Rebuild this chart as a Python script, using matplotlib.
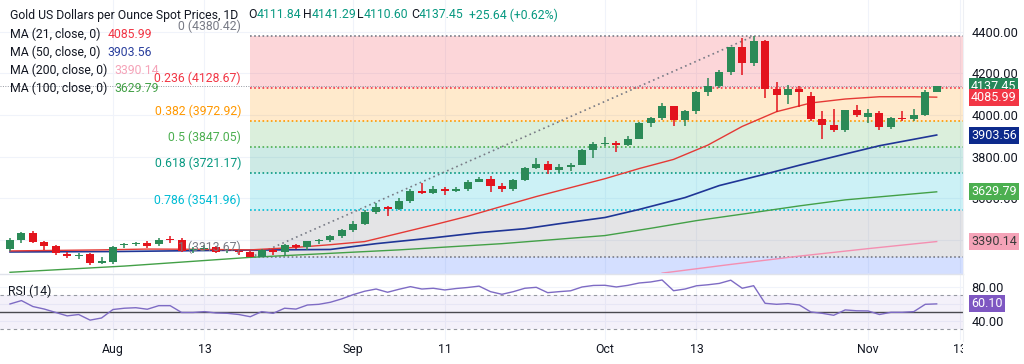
import numpy as np
import matplotlib
matplotlib.use('Agg')
import matplotlib.pyplot as plt
from matplotlib.transforms import blended_transform_factory, Bbox, TransformedBbox
from matplotlib.lines import Line2D

plt.rcParams['font.family'] = ['Roboto', 'DejaVu Sans']

# daily bars, Jul 21 .. Nov 11
opens = [3353, 3397, 3431, 3387, 3368, 3329, 3320, 3332, 3286, 3293,
         3372, 3378, 3384, 3378, 3401, 3399, 3350, 3355, 3364, 3343,
         3345, 3340, 3318, 3348, 3339, 3372, 3366, 3393, 3397, 3417,
         3448, 3477, 3533, 3559, 3545, 3587, 3636, 3626, 3641, 3634,
         3643, 3679, 3690, 3659, 3644, 3685, 3746, 3763, 3736, 3749,
         3760, 3833, 3858, 3866, 3857, 3886, 3960, 3985, 4041, 3976,
         4018, 4110, 4142, 4208, 4326, 4251, 4356, 4125, 4095, 4126,
         4090, 3982, 3952, 3930, 4024, 3990, 4011, 3941, 3987, 3980,
         4001, 4111.84]
highs = [3405, 3434, 3439, 3394, 3373, 3338, 3334, 3336, 3314, 3368,
         3385, 3390, 3393, 3405, 3417, 3405, 3362, 3375, 3370, 3356,
         3352, 3345, 3352, 3352, 3378, 3376, 3394, 3402, 3424, 3453,
         3490, 3540, 3578, 3563, 3600, 3645, 3674, 3657, 3654, 3655,
         3685, 3703, 3707, 3673, 3690, 3749, 3791, 3780, 3762, 3769,
         3835, 3871, 3895, 3876, 3897, 3965, 3991, 4059, 4045, 4022,
         4116, 4179, 4218, 4330, 4370, 4380.42, 4360, 4161, 4146, 4138,
         4112, 4018, 4030, 4025, 4046, 4030, 4018, 3990, 4020, 4030,
         4121, 4141.29]
lows = [3345, 3383, 3381, 3351, 3325, 3312, 3308, 3279, 3280, 3281,
        3360, 3367, 3358, 3371, 3385, 3342, 3335, 3347, 3334, 3335,
        3325, 3313.67, 3315, 3325, 3322, 3352, 3351, 3378, 3386, 3407,
        3437, 3468, 3525, 3511, 3540, 3578, 3620, 3620, 3615, 3629,
        3634, 3676, 3627, 3628, 3633, 3683, 3738, 3717, 3722, 3729,
        3758, 3793, 3852, 3820, 3849, 3884, 3942, 3978, 3945, 3946,
        4007, 4093, 4131, 4195, 4193, 4236, 4082, 4016, 4055, 4040,
        3971, 3886, 3916, 3920, 3990, 3963, 3930, 3931, 3971, 3970,
        3995, 4110.60]
closes = [3397, 3431, 3387, 3368, 3337, 3320, 3327, 3286, 3295, 3364,
          3380, 3383, 3369, 3398, 3397, 3346, 3355, 3356, 3341, 3345,
          3340, 3318, 3348, 3339, 3372, 3366, 3393, 3397, 3417, 3448,
          3477, 3533, 3559, 3545, 3587, 3636, 3626, 3641, 3634, 3643,
          3679, 3690, 3659, 3644, 3685, 3746, 3763, 3736, 3749, 3760,
          3833, 3858, 3866, 3857, 3886, 3960, 3985, 4041, 3976, 4018,
          4110, 4142, 4208, 4326, 4251, 4356, 4125, 4095, 4126, 4112,
          3982, 3952, 3930, 4024, 4002, 4011, 3941, 3987, 3981, 4001,
          4111.81, 4137.45]

rsi = [60, 64, 57, 54, 50, 46, 47.6, 41, 43.5, 53.5,
       55, 55.6, 53.8, 58, 58, 50, 50, 51, 49.4, 49,
       47.6, 45, 51, 49, 55, 54, 58.8, 59.6, 62, 66,
       71, 75, 77.6, 73.8, 77.3, 80.4, 77.6, 78.5, 76.5, 78.2,
       79.4, 81, 74.5, 71.4, 74.5, 78.5, 79.6, 73.3, 74.5, 75.5,
       80, 81.8, 82, 80, 81.9, 84.7, 85.9, 88.2, 75.6, 77.6,
       81.4, 82.6, 84.2, 88, 78.5, 81.5, 60.8, 59.6, 60.4, 58.8,
       50.6, 49, 46.7, 53, 52, 51.8, 47.6, 50.2, 50.2, 51,
       59.6, 60.1]

# moving averages at a few bars
ma21_idx = [0, 8, 12, 16, 21, 25, 28, 31, 34, 37, 40, 43, 46, 49, 52, 55,
            58, 61, 64, 67, 70, 73, 76, 79, 81]
ma21 = [3345, 3350, 3354, 3353, 3350, 3362, 3375, 3390, 3430, 3470, 3512,
        3560, 3607, 3650, 3693, 3742, 3786, 3855, 3945, 4016, 4058, 4077,
        4088, 4088, 4085.99]
ma50_idx = [0, 9, 19, 28, 32, 37, 41, 45, 48, 52, 55, 59, 62, 66, 69, 73, 76, 81]
ma50 = [3340, 3342, 3348, 3352, 3380, 3408, 3433, 3452, 3476, 3506, 3545,
        3602, 3660, 3715, 3758, 3812, 3852, 3903.56]
ma100_idx = [0, 10, 21, 34, 43, 52, 56, 60, 65, 69, 73, 81]
ma100 = [3242, 3272, 3314, 3350, 3380, 3419, 3454, 3491, 3530, 3562, 3591, 3629.79]
ma200_idx = [57, 63, 69, 75, 81]
ma200 = [3238, 3280, 3320, 3356, 3390.14]

fib_levels = ['0', '0.236', '0.382', '0.5', '0.618', '0.786', '1']
fib_prices = [4380.42, 4128.67, 3972.92, 3847.05, 3721.17, 3541.96, 3313.67]
fib_colors = ['#787b86', '#f23645', '#ff9800', '#4caf50', '#089981', '#00bcd4', '#787b86']
fib_ext = 2654.23  # 1.618
fib_start, fib_end = 21, 65

tick_pos = [9, 17, 30, 38, 52, 60, 75, 83]
tick_lbl = ['Aug', '13', 'Sep', '11', 'Oct', '13', 'Nov', '13']

UP, DOWN = '#2b8a57', '#e3131d'
TXT = '#131722'
W, H = 1024, 364
FS = 8.8


def P(x, y):
    return x / W, 1 - y / H


fig = plt.figure(figsize=(10.24, 3.64), dpi=100)
ax = fig.add_axes([0, 1 - 273 / H, 963 / W, 273 / H])
ax2 = fig.add_axes([0, 1 - 340 / H, 963 / W, 65 / H])

xmin, xmax = -0.874, 83.3
for a in (ax, ax2):
    a.set_xlim(xmin, xmax)
    for s in a.spines.values():
        s.set_visible(False)
    a.set_xticks(tick_pos)
    a.tick_params(axis='x', length=0, labelbottom=False)
    a.grid(True, color='#f0f3fa', lw=0.8, zorder=0)
    a.set_axisbelow(True)
    a.yaxis.tick_right()
    a.tick_params(axis='y', length=0, pad=6, labelsize=9.2, labelcolor=TXT)

ax.set_ylim(3238.6, 4554.2)
ax.set_yticks([3400, 3600, 3800, 4000, 4200, 4400])
# 3400 sits fully under the MA200 tag on the reference
ax.set_yticklabels(['' if v == 3400 else f'{v:.2f}' for v in ax.get_yticks()])

# fib bands and levels
xr = [fib_start, xmax + 1]
for k in range(len(fib_prices) - 1):
    ax.fill_between(xr, fib_prices[k], fib_prices[k + 1], color=fib_colors[k + 1],
                    alpha=0.2, lw=0, zorder=1)
ax.fill_between(xr, fib_prices[-1], fib_ext, color='#2962ff', alpha=0.2, lw=0, zorder=1)
for lvl, p, c in zip(fib_levels, fib_prices, fib_colors):
    ax.hlines(p, fib_start, xmax + 1, colors=c, lw=1.2, linestyles=(0, (1, 1.5)), zorder=2)
    ax.annotate(f'{lvl} ({p:.2f})', xy=(fib_start - 0.8, p), xytext=(0, 3),
                textcoords='offset pixels', ha='right', va='bottom', fontsize=FS,
                color=c, annotation_clip=False, zorder=6)
ax.plot([fib_start, fib_end], [fib_prices[-1], fib_prices[0]], color='#787b86',
        lw=1.2, ls=(0, (1, 2)), zorder=2)

# last price line
ax.axhline(closes[-1], color='#9598a1', lw=0.7, ls=(0, (1, 1.5)), zorder=2)

# moving averages
ax.plot(ma100_idx, ma100, color='#43a047', lw=1, zorder=3)
ax.plot(ma200_idx, ma200, color='#f48fb1', lw=1, zorder=3)
ax.plot(ma50_idx, ma50, color='#1f3596', lw=1.2, zorder=3)
ax.plot(ma21_idx, ma21, color='#e53935', lw=1, zorder=3)

# candles
x = np.arange(len(closes))
o = np.array(opens, dtype=float)
c = np.array(closes, dtype=float)
col = np.where(c >= o, UP, DOWN)
ax.vlines(x, lows, highs, colors=col, lw=1.1, zorder=4)
ax.bar(x, np.maximum(np.abs(c - o), 3), bottom=np.minimum(o, c), width=0.7,
       color=col, lw=0, zorder=5)


# price scale labels
def tag(a, val, txt, fc, tc='white'):
    a.annotate(txt, xy=(1, val), xycoords=('axes fraction', 'data'), xytext=(8, 0),
               textcoords='offset pixels', ha='left', va='center', fontsize=9,
               color=tc, annotation_clip=False, zorder=10,
               bbox=dict(boxstyle='square,pad=0.16', fc=fc, ec='none'))


tag(ax, closes[-1], '4137.45', '#26875a')
tag(ax, ma21[-1], '4085.99', '#f23645')
tag(ax, ma50[-1], '3903.56', '#0d2a8c')
tag(ax, ma100[-1], '3629.79', '#4caf50')
tag(ax, ma200[-1], '3390.14', '#f5a3b8', tc='#3a3a3a')

# RSI pane
ax2.set_ylim(17.6, 94.1)
ax2.set_yticks([40, 60, 80])
ax2.set_yticklabels(['40.00', '', '80.00'])
ax2.axhspan(30, 70, color='#7e57c2', alpha=0.08, lw=0, zorder=1)
ax2.axhline(70, color='#9598a1', lw=0.8, ls=(0, (3, 3)), zorder=2)
ax2.axhline(30, color='#9598a1', lw=0.8, ls=(0, (3, 3)), zorder=2)
ax2.axhline(50, color='#4a4a50', lw=1, zorder=2)
ax2.plot(x, rsi, color='#7e6bc4', lw=1, zorder=3)
tag(ax2, rsi[-1], '60.10', '#7e57c2')

tr = blended_transform_factory(ax2.transData, ax2.transAxes)
for pos, lbl in zip(tick_pos, tick_lbl):
    t = ax2.text(pos, -0.15, lbl, transform=tr, ha='center', va='center',
                 fontsize=FS, color=TXT)
    t.set_clip_path(None)
    t.set_clip_box(TransformedBbox(Bbox([[0, -1], [1, 1]]), ax2.transAxes))
    t.set_clip_on(True)

# separators
fig.add_artist(Line2D([0, 963 / W], [1 - 274 / H] * 2, color='#e0e3eb', lw=1))
fig.add_artist(Line2D([963 / W] * 2, [1 - 341 / H, 1], color='#eef0f4', lw=0.8))


# header / legend
def pair(x, y, a, b, bc, gap=7):
    t1 = fig.text(*P(x, y), a, ha='left', va='center', fontsize=FS, color=TXT)
    ax.annotate(b, xy=(1, 0.5), xycoords=t1, xytext=(gap, 0), textcoords='offset pixels',
                ha='left', va='center', fontsize=FS, color=bc, annotation_clip=False)


fig.text(*P(10, 15), 'Gold US Dollars per Ounce Spot Prices, 1D', ha='left', va='center',
         fontsize=FS, color=TXT)
G = '#089981'
for xx, lt, val in [(248, 'O', '4111.84'), (303, 'H', '4141.29'), (357, 'L', '4110.60'),
                    (411, 'C', '4137.45')]:
    pair(xx, 15, lt, val, G, gap=0)
fig.text(*P(469, 15), '+25.64 (+0.62%)', ha='left', va='center', fontsize=FS, color=G)

pair(10, 34, 'MA (21, close, 0)', '4085.99', '#f23645')
pair(10, 52, 'MA (50, close, 0)', '3903.56', '#2a3f9d')
pair(10, 70, 'MA (200, close, 0)', '3390.14', '#f5a3b8')
pair(10, 88, 'MA (100, close, 0)', '3629.79', '#43a047')
pair(8, 291, 'RSI (14)', '60.10', '#7e6bc4')

fig.savefig('out.png', dpi=100)
